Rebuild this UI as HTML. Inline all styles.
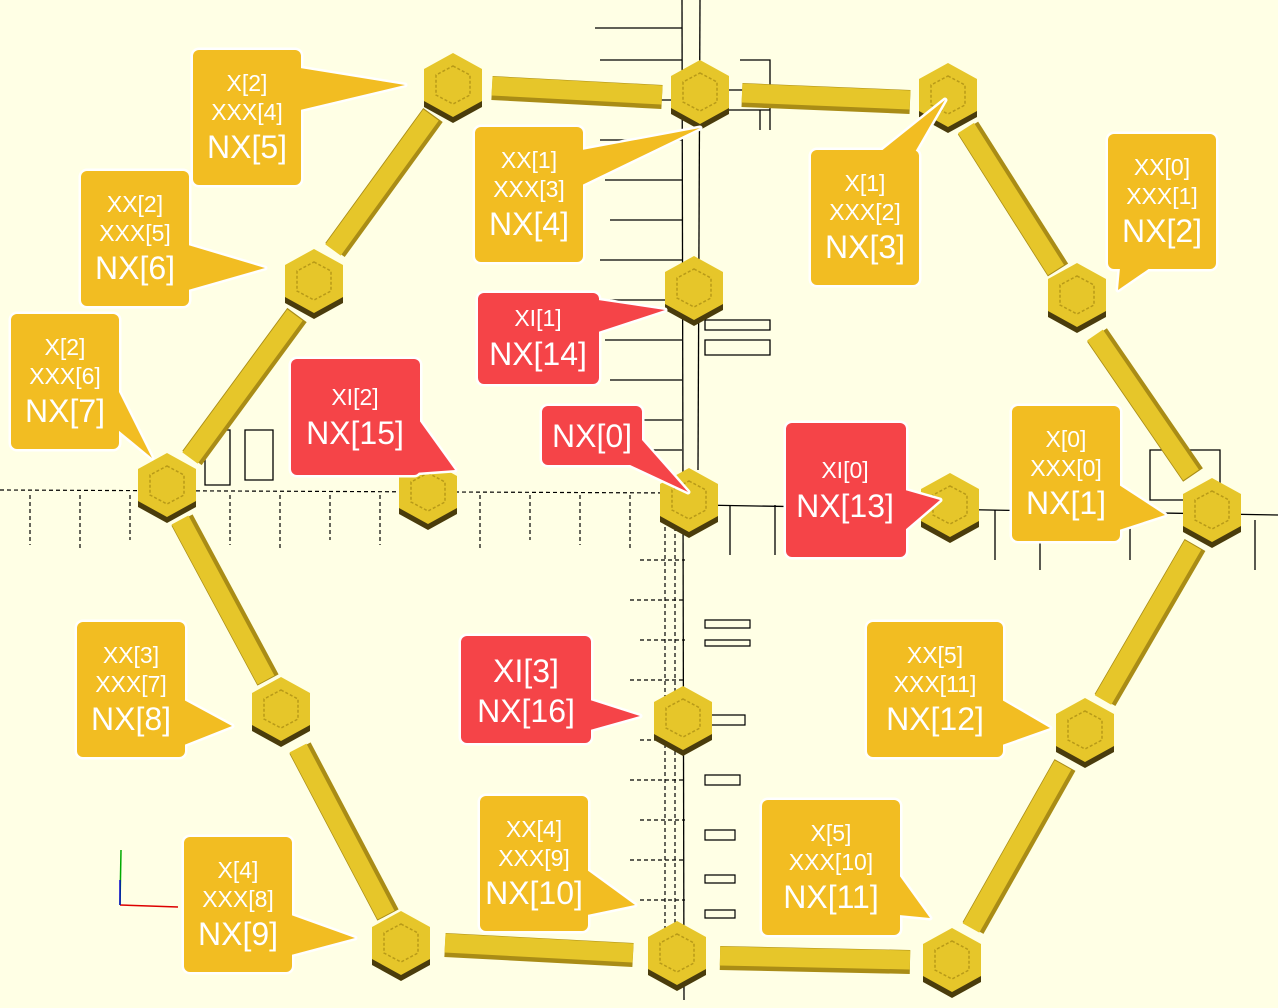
<!DOCTYPE html>
<html><head><meta charset="utf-8"><style>
html,body{margin:0;padding:0;background:#FFFFE5;}
svg{display:block}
text{font-family:"Liberation Sans Narrow","Liberation Sans",sans-serif;fill:#fff;text-anchor:middle}
.s{font-size:23px}.b{font-size:32px}
</style></head><body>
<svg width="1278" height="1008" viewBox="0 0 1278 1008" xmlns="http://www.w3.org/2000/svg">
<defs>
<g id="hx">
<polygon points="0,-26 29,-10 29,22 0,38 -29,22 -29,-10" fill="#4a3c0c"/>
<polygon points="0,-32 29,-16 29,16 0,32 -29,16 -29,-16" fill="#E6C62A"/>
<polygon points="0,-19 17,-10 17,10 0,19 -17,10 -17,-10" fill="none" stroke="#b89a18" stroke-width="1.5" stroke-dasharray="3 2"/>
</g>
</defs>
<g stroke="#000" stroke-width="1.3" fill="none">
<line x1="682" y1="0" x2="684" y2="1000"/>
<line x1="700" y1="0" x2="698" y2="470"/>
<line x1="700" y1="505" x2="1278" y2="515"/>
<path d="M595 28H682M600 60H682M610 100H682M600 140H682M605 180H682M610 220H682M600 260H682M610 300H682M605 340H682M610 380H682M620 420H682M640 450H682"/>
<path d="M205 430h25v55h-25zM245 430h28v50h-28z"/>
<path d="M705 320h65v10h-65zM705 340h65v15h-65z"/>
<path d="M730 505v50M775 505v50M820 505v40M995 510v50M1040 510v60M1130 510v50M1255 520v50"/>
<path d="M1150 450h70v50h-70z"/>
<path d="M740 60h30v70M700 90h70v20h-70zM760 110v20"/>
</g>
<g stroke="#000" stroke-width="1.2" fill="none" stroke-dasharray="4 3">
<path d="M0 490 L680 493"/>
<path d="M30 495v50M80 495v55M130 495v45M230 495v50M280 495v55M330 495v45M380 495v50M480 495v55M530 495v45M580 495v50M630 495v55"/>
<path d="M665 520v460M675 520v460M640 560h45M630 600h55M640 640h45M630 680h55M640 740h45M630 780h55M640 820h45M630 860h55M640 900h45"/>
</g>
<g stroke="#000" stroke-width="1.2" fill="none">
<path d="M705 620h45v8h-45zM705 640h45v6h-45zM705 715h40v10h-40zM705 775h35v10h-35zM705 830h30v10h-30zM705 875h30v8h-30zM705 910h30v8h-30z"/>
</g>
<line x1="120" y1="905" x2="178" y2="907" stroke="#d00" stroke-width="1.5"/>
<line x1="120" y1="905" x2="121" y2="850" stroke="#0a0" stroke-width="1.5"/>
<line x1="120" y1="905" x2="120" y2="880" stroke="#00c" stroke-width="1.5"/>
<g stroke-linecap="butt">
<g stroke="#a98c16" stroke-width="24">
<line x1="492" y1="88" x2="662" y2="97"/><line x1="742" y1="95" x2="910" y2="102"/>
<line x1="968" y1="128" x2="1058" y2="270"/><line x1="1097" y1="335" x2="1193" y2="475"/>
<line x1="1195" y1="545" x2="1105" y2="700"/><line x1="1065" y1="765" x2="973" y2="928"/>
<line x1="720" y1="958" x2="910" y2="962"/><line x1="445" y1="945" x2="633" y2="955"/>
<line x1="300" y1="748" x2="388" y2="915"/><line x1="182" y1="520" x2="268" y2="680"/>
<line x1="192" y1="458" x2="297" y2="315"/><line x1="335" y1="250" x2="433" y2="115"/>
</g>
<g stroke="#E6C62A" stroke-width="19">
<line x1="492" y1="86" x2="662" y2="95"/><line x1="742" y1="93" x2="910" y2="100"/>
<line x1="966" y1="128" x2="1056" y2="270"/><line x1="1095" y1="335" x2="1191" y2="475"/>
<line x1="1193" y1="545" x2="1103" y2="700"/><line x1="1063" y1="765" x2="971" y2="928"/>
<line x1="720" y1="956" x2="910" y2="960"/><line x1="445" y1="943" x2="633" y2="953"/>
<line x1="298" y1="748" x2="386" y2="915"/><line x1="180" y1="520" x2="266" y2="680"/>
<line x1="190" y1="458" x2="295" y2="315"/><line x1="333" y1="250" x2="431" y2="115"/>
</g>
</g>
<use href="#hx" x="453" y="85"/><use href="#hx" x="700" y="92"/><use href="#hx" x="948" y="95"/>
<use href="#hx" x="1077" y="295"/><use href="#hx" x="1212" y="510"/><use href="#hx" x="1085" y="730"/>
<use href="#hx" x="952" y="960"/><use href="#hx" x="677" y="953"/><use href="#hx" x="401" y="943"/>
<use href="#hx" x="281" y="709"/><use href="#hx" x="167" y="485"/><use href="#hx" x="314" y="281"/>
<use href="#hx" x="428" y="492"/><use href="#hx" x="689" y="500"/><use href="#hx" x="950" y="505"/>
<use href="#hx" x="694" y="288"/><use href="#hx" x="683" y="718"/>
<g fill="#fff" stroke="#fff" stroke-width="5" stroke-linejoin="round">
<rect x="193" y="50" width="108" height="135" rx="6"/><polygon points="300,68 300,110 405,85"/>
<rect x="475" y="127" width="108" height="135" rx="6"/><polygon points="582,150 582,185 700,128"/>
<rect x="811" y="150" width="108" height="135" rx="6"/><polygon points="880,152 915,152 945,100"/>
<rect x="1108" y="134" width="108" height="135" rx="6"/><polygon points="1120,268 1150,268 1118,290"/>
<rect x="81" y="171" width="108" height="135" rx="6"/><polygon points="188,245 188,290 265,268"/>
<rect x="11" y="314" width="108" height="135" rx="6"/><polygon points="118,390 118,430 152,458"/>
<rect x="291" y="359" width="129" height="116" rx="6"/><polygon points="400,474 419,420 455,470"/>
<rect x="478" y="293" width="121" height="91" rx="6"/><polygon points="598,300 598,332 665,310"/>
<rect x="542" y="406" width="100" height="59" rx="6"/><polygon points="628,464 642,440 688,492"/>
<rect x="786" y="423" width="120" height="134" rx="6"/><polygon points="905,490 905,530 940,500"/>
<rect x="1012" y="406" width="108" height="135" rx="6"/><polygon points="1119,485 1119,530 1165,515"/>
<rect x="77" y="622" width="108" height="135" rx="6"/><polygon points="184,700 184,745 232,726"/>
<rect x="461" y="636" width="130" height="107" rx="6"/><polygon points="590,700 590,730 640,716"/>
<rect x="867" y="622" width="136" height="135" rx="6"/><polygon points="1002,700 1002,745 1050,728"/>
<rect x="480" y="796" width="108" height="135" rx="6"/><polygon points="587,870 587,915 635,905"/>
<rect x="762" y="800" width="138" height="135" rx="6"/><polygon points="899,875 899,915 930,918"/>
<rect x="184" y="837" width="108" height="135" rx="6"/><polygon points="291,915 291,955 355,938"/>
</g>
<g fill="#F2BD22">
<rect x="193" y="50" width="108" height="135" rx="6"/><polygon points="300,68 300,110 405,85"/>
<rect x="475" y="127" width="108" height="135" rx="6"/><polygon points="582,150 582,185 700,128"/>
<rect x="811" y="150" width="108" height="135" rx="6"/><polygon points="880,152 915,152 945,100"/>
<rect x="1108" y="134" width="108" height="135" rx="6"/><polygon points="1120,268 1150,268 1118,290"/>
<rect x="81" y="171" width="108" height="135" rx="6"/><polygon points="188,245 188,290 265,268"/>
<rect x="11" y="314" width="108" height="135" rx="6"/><polygon points="118,390 118,430 152,458"/>
<rect x="1012" y="406" width="108" height="135" rx="6"/><polygon points="1119,485 1119,530 1165,515"/>
<rect x="77" y="622" width="108" height="135" rx="6"/><polygon points="184,700 184,745 232,726"/>
<rect x="867" y="622" width="136" height="135" rx="6"/><polygon points="1002,700 1002,745 1050,728"/>
<rect x="480" y="796" width="108" height="135" rx="6"/><polygon points="587,870 587,915 635,905"/>
<rect x="762" y="800" width="138" height="135" rx="6"/><polygon points="899,875 899,915 930,918"/>
<rect x="184" y="837" width="108" height="135" rx="6"/><polygon points="291,915 291,955 355,938"/>
</g>
<g fill="#F54448">
<rect x="291" y="359" width="129" height="116" rx="6"/><polygon points="400,474 419,420 455,470"/>
<rect x="478" y="293" width="121" height="91" rx="6"/><polygon points="598,300 598,332 665,310"/>
<rect x="542" y="406" width="100" height="59" rx="6"/><polygon points="628,464 642,440 688,492"/>
<rect x="786" y="423" width="120" height="134" rx="6"/><polygon points="905,490 905,530 940,500"/>
<rect x="461" y="636" width="130" height="107" rx="6"/><polygon points="590,700 590,730 640,716"/>
</g>
<text class="s" x="247" y="91">X[2]</text><text class="s" x="247" y="120">XXX[4]</text><text class="b" x="247" y="158">NX[5]</text>
<text class="s" x="529" y="168">XX[1]</text><text class="s" x="529" y="197">XXX[3]</text><text class="b" x="529" y="235">NX[4]</text>
<text class="s" x="865" y="191">X[1]</text><text class="s" x="865" y="220">XXX[2]</text><text class="b" x="865" y="258">NX[3]</text>
<text class="s" x="1162" y="175">XX[0]</text><text class="s" x="1162" y="204">XXX[1]</text><text class="b" x="1162" y="242">NX[2]</text>
<text class="s" x="135" y="212">XX[2]</text><text class="s" x="135" y="241">XXX[5]</text><text class="b" x="135" y="279">NX[6]</text>
<text class="s" x="65" y="355">X[2]</text><text class="s" x="65" y="384">XXX[6]</text><text class="b" x="65" y="422">NX[7]</text>
<text class="s" x="355" y="405">XI[2]</text><text class="b" x="355" y="444">NX[15]</text>
<text class="s" x="538" y="326">XI[1]</text><text class="b" x="538" y="365">NX[14]</text>
<text class="b" x="592" y="447">NX[0]</text>
<text class="s" x="845" y="478">XI[0]</text><text class="b" x="845" y="517">NX[13]</text>
<text class="s" x="1066" y="447">X[0]</text><text class="s" x="1066" y="476">XXX[0]</text><text class="b" x="1066" y="514">NX[1]</text>
<text class="s" x="131" y="663">XX[3]</text><text class="s" x="131" y="692">XXX[7]</text><text class="b" x="131" y="730">NX[8]</text>
<text class="b" x="526" y="682">XI[3]</text><text class="b" x="526" y="722">NX[16]</text>
<text class="s" x="935" y="663">XX[5]</text><text class="s" x="935" y="692">XXX[11]</text><text class="b" x="935" y="730">NX[12]</text>
<text class="s" x="534" y="837">XX[4]</text><text class="s" x="534" y="866">XXX[9]</text><text class="b" x="534" y="904">NX[10]</text>
<text class="s" x="831" y="841">X[5]</text><text class="s" x="831" y="870">XXX[10]</text><text class="b" x="831" y="908">NX[11]</text>
<text class="s" x="238" y="878">X[4]</text><text class="s" x="238" y="907">XXX[8]</text><text class="b" x="238" y="945">NX[9]</text>
</svg>
</body></html>
